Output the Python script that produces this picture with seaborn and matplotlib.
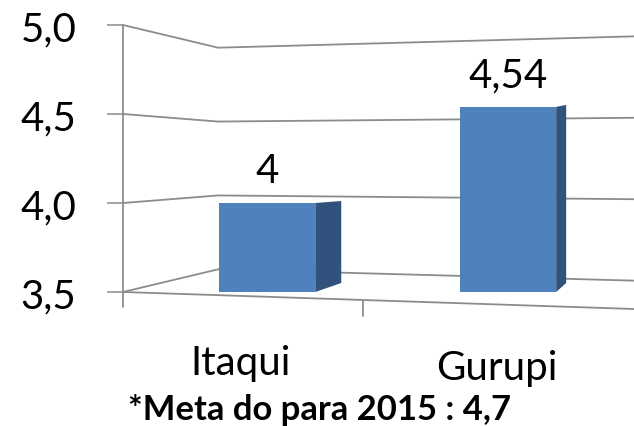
import matplotlib
matplotlib.use("Agg")
import matplotlib.pyplot as plt
import seaborn as sns
from matplotlib.patches import Polygon
from matplotlib.ticker import FuncFormatter
from matplotlib.transforms import ScaledTranslation

# ---- data ----
categories = ["Itaqui", "Gurupi"]
values = [4.0, 4.54]
y_ticks = [3.5, 4.0, 4.5, 5.0]
footnote = "*Meta do para 2015 : 4,7"

sns.set_theme(style="white")
plt.rcParams['font.family'] = ['Lato', 'DejaVu Sans']

W, H = 634, 427
fig = plt.figure(figsize=(W / 100, H / 100), dpi=100)
ax = fig.add_axes([123 / W, (H - 293) / H, 1 - 123 / W, (293 - 26) / H])

front = "#4F81BD"
side = "#31527C"
grid = "#8C8C8C"
big = 29

sns.barplot(x=categories, y=values, color=front, saturation=1, width=0.4,
            ax=ax, zorder=3, linewidth=0)

ymin, ymax = y_ticks[0], y_ticks[-1]
xmin, xmax = -0.598, 1.523
ax.set_ylim(ymin, ymax)
ax.set_xlim(xmin, xmax)
for s in ax.spines.values():
    s.set_visible(False)

px_y = (293 - 26) / (ymax - ymin)   # pixels per value unit
px_x = 241.0                        # pixels per category unit

# perspective walls / gridlines
xc = -0.203
mid = (ymin + ymax) / 2
for v in y_ticks:
    ax.plot([xmin, xc, xmax],
            [v, v - 0.17 * (v - mid), v - 0.085 * (v - mid)],
            color=grid, lw=1.3, zorder=1, clip_on=False, solid_joinstyle='miter')
# front floor edge
ax.plot([xmin, xmax], [ymin, ymin - 17 / px_y], color=grid, lw=1.3, zorder=1, clip_on=False)
# left axis line
ax.plot([xmin, xmin], [ymin - 15 / px_y, ymax], color=grid, lw=1.3, zorder=2, clip_on=False)
# category separator tick
xs = 0.5 - 0.1
ax.plot([xs, xs], [ymin - 9 / px_y, ymin - 24 / px_y], color=grid, lw=1.3, clip_on=False)

# 3D side faces
for p, v in zip(ax.patches, values):
    x1 = p.get_x() + p.get_width()
    cx = p.get_x() + p.get_width() / 2
    dx = (26 - 16 * cx) / px_x
    poly = Polygon([(x1, ymin), (x1 + dx, ymin + 9 / px_y),
                    (x1 + dx, v + 2 / px_y), (x1, v)],
                   closed=True, facecolor=side, edgecolor='none', zorder=3)
    ax.add_patch(poly)

# value labels
lbls = [f"{v:g}".replace('.', ',') for v in values]
ax.bar_label(ax.containers[0], labels=lbls, padding=10, fontsize=big, color='black')

# y ticks
ax.set_yticks(y_ticks)
ax.yaxis.set_major_formatter(FuncFormatter(lambda v, _: f"{v:.1f}".replace('.', ',')))
ax.tick_params(axis='y', left=True, length=11.5, width=1.1, color=grid,
               direction='out', labelsize=big, pad=22, labelcolor='black')

# x labels (baseline-aligned, shifted for the perspective)
ax.set_xticks(range(len(categories)))
ax.set_xticklabels(categories, va='baseline')
ax.tick_params(axis='x', bottom=False, length=0, labelsize=big, pad=0, labelcolor='black')
shifts = [(-0.27, -0.82), (-0.11, -0.87)]
for lab, (dx, dy) in zip(ax.get_xticklabels(), shifts):
    lab.set_transform(lab.get_transform() + ScaledTranslation(dx, dy, fig.dpi_scale_trans))
ax.set_xlabel("")
ax.set_ylabel("")

t = fig.text(128 / W, 1 - 420 / H, footnote, ha='left', va='baseline',
             fontsize=21, fontweight='bold', color='black')
r = fig.canvas.get_renderer()
wpx = t.get_window_extent(renderer=r).width
t.set_fontsize(21 * 384 / wpx)

fig.savefig("out.png", dpi=100)
